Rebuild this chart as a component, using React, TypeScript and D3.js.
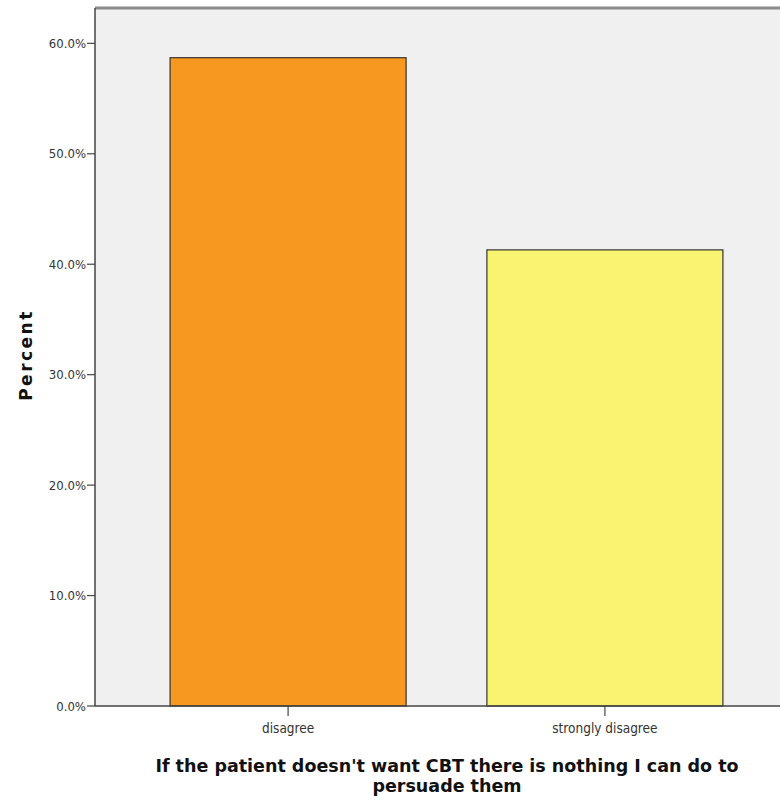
import React from "react";
import * as d3 from "d3";

const categories = ["disagree", "strongly disagree"];
const percents = [58.7, 41.3];
const barColors = ["#f7991e", "#f8f472"];
const yTicks = [0, 10, 20, 30, 40, 50, 60];
const xTitleLines = ["If the patient doesn't want CBT there is nothing I can do to", "persuade them"];
const yTitle = "Percent";

export default function App() {
  const W = 780, H = 802;
  const left = 95, top = 8, right = 798, bottom = 706;
  const y = d3.scaleLinear().domain([0, 63.2]).range([bottom, top]);
  const x = d3.scaleBand().domain(categories).range([left, right]).paddingInner(0.255).paddingOuter(0.237);
  const tickFont = "'DejaVu Sans Condensed', 'DejaVu Sans', sans-serif";
  return (
    <svg width={W} height={H} style={{ position: "absolute", left: 0, top: 0 }}>
      <rect x={0} y={0} width={W} height={H} fill="#ffffff" />
      <rect x={left} y={top} width={right - left} height={bottom - top} fill="#f0f0f0" />
      <line x1={left} x2={right} y1={top} y2={top} stroke="#8a8a8a" strokeWidth={3} />
      {categories.map((c, i) => (
        <rect key={c} x={x(c)} y={y(percents[i])} width={x.bandwidth()} height={bottom - y(percents[i])}
          fill={barColors[i]} stroke="#333" strokeWidth={1.2} />
      ))}
      <line x1={left} x2={left} y1={top} y2={bottom} stroke="#444" strokeWidth={1.5} />
      <line x1={left} x2={right} y1={bottom} y2={bottom} stroke="#444" strokeWidth={1.5} />
      {yTicks.map(t => (
        <g key={t}>
          <line x1={left - 8} x2={left} y1={y(t)} y2={y(t)} stroke="#444" strokeWidth={1.2} />
          <text x={left - 9} y={y(t)} dy="0.35em" textAnchor="end" fontSize={13} fill="#333" fontFamily={tickFont}>
            {t.toFixed(1) + "%"}
          </text>
        </g>
      ))}
      {categories.map(c => {
        const cx = (x(c) as number) + x.bandwidth() / 2;
        return (
          <g key={c}>
            <line x1={cx} x2={cx} y1={bottom} y2={bottom + 10} stroke="#444" strokeWidth={1.2} />
            <text x={cx} y={733} textAnchor="middle" fontSize={13.5} fill="#333" fontFamily={tickFont}>{c}</text>
          </g>
        );
      })}
      <text transform={`translate(32,${355}) rotate(-90)`} textAnchor="middle" fontSize={17} letterSpacing={2.5}
        fontWeight="bold" fill="#111" fontFamily="'DejaVu Sans', sans-serif">{yTitle}</text>
      {xTitleLines.map((l, i) => (
        <text key={i} x={447} y={772 + i * 20} textAnchor="middle" fontSize={17.5} fontWeight="bold" fill="#111"
          fontFamily="'DejaVu Sans', sans-serif">{l}</text>
      ))}
    </svg>
  );
}
